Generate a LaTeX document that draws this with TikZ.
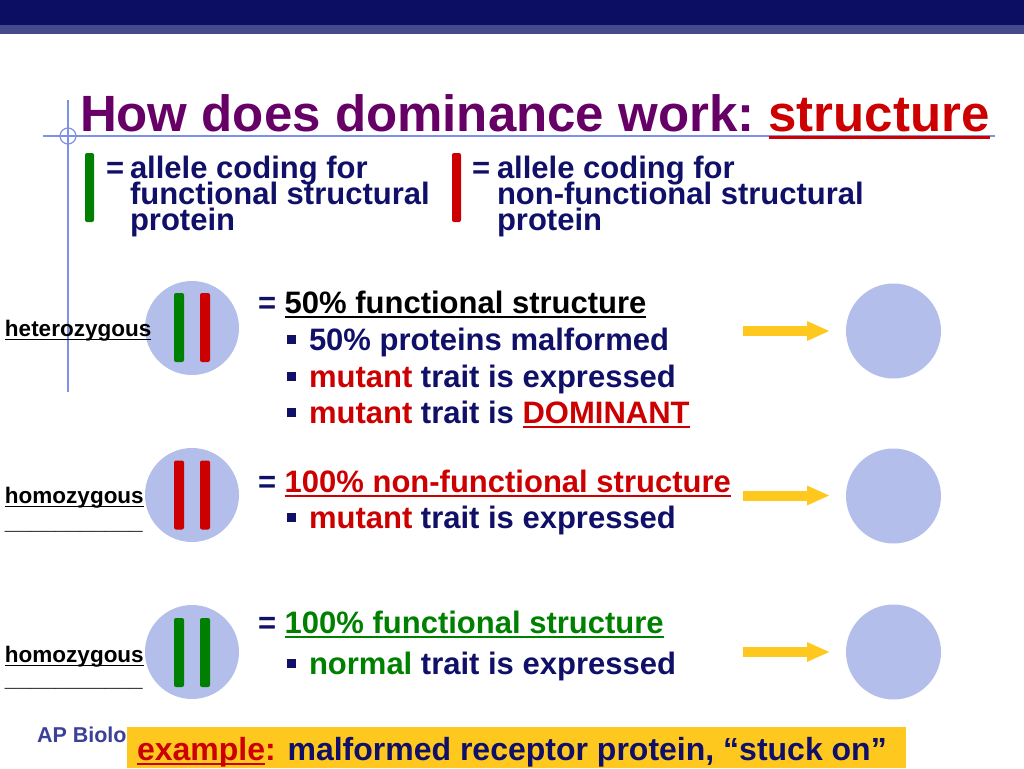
\documentclass[tikz,border=0pt]{standalone}
\usepackage{fontspec}
\setmainfont{Liberation Sans}
\usetikzlibrary{arrows.meta}
\definecolor{navy}{RGB}{16,16,104}
\definecolor{ttlpurple}{RGB}{102,0,102}
\definecolor{mred}{RGB}{204,0,0}
\definecolor{mgreen}{RGB}{0,128,0}
\definecolor{circblue}{RGB}{180,190,234}
\definecolor{gold}{RGB}{255,200,30}
\definecolor{guideblue}{RGB}{125,145,230}
\definecolor{banddark}{RGB}{12,14,100}
\definecolor{bandlight}{RGB}{70,74,138}
\definecolor{apblue}{RGB}{60,64,150}
\newsavebox{\ulbox}
\newcommand{\myul}[3]{\sbox{\ulbox}{#3}\rlap{\rule[-#1]{\wd\ulbox}{#2}}\usebox{\ulbox}}
\begin{document}
\begin{tikzpicture}[x=1pt,y=-1pt,
  every node/.style={inner sep=0pt,outer sep=0pt},
  title/.style={font=\fontsize{51}{56}\selectfont\bfseries,anchor=base west},
  body/.style={font=\fontsize{31}{36}\selectfont\bfseries,text=navy,anchor=base west},
  lbl/.style={font=\fontsize{22.5}{26}\selectfont\bfseries,text=black,anchor=base west},
  guide/.style={draw=guideblue,line width=1.2pt},
  circ/.style={circle,fill=circblue,minimum size=94pt},
  allele/.style={rectangle,rounded corners=2pt,minimum width=10pt,minimum height=69pt},
  bul/.style={rectangle,fill=navy,minimum size=9pt},
  goldarrow/.style={draw=gold,line width=10pt,-{Triangle[length=23pt,width=18pt]}}]
\useasboundingbox (0,0) rectangle (1024,768);
% header bands
\fill[banddark] (0,0) rectangle (1024,25);
\fill[bandlight] (0,25) rectangle (1024,34);
% guide lines
\draw[guide] (43,136) -- (995,136);
\draw[guide] (68,100) -- (68,392);
\draw[guide] (68,136) circle (8);
% title
\node[title,text=ttlpurple] (t1) at (80,131) {How does dominance work:};
\node[title,text=mred] (t2) at ([xshift=14.2pt]t1.base east) {\myul{7.5pt}{2.5pt}{structure}};
% legend
\node[allele,fill=mgreen,minimum width=9pt] (gbar) at (89.5,187.5) {};
\node[body] (geq) at (106,178) {=};
\node[body] (gl1) at (130,178) {allele coding for};
\node[body] (gl2) at (130,204) {functional structural};
\node[body] (gl3) at (130,230) {protein};
\node[allele,fill=mred,minimum width=9pt] (rbar) at (456.5,187.5) {};
\node[body] (req) at (472,178) {=};
\node[body] (rl1) at (497,178) {allele coding for};
\node[body] (rl2) at (497,204) {non-functional structural};
\node[body] (rl3) at (497,230) {protein};
% left circles
\node[circ] (c1) at (192,328) {};
\node[allele,fill=mgreen] (c1a) at (179,327.5) {};
\node[allele,fill=mred] (c1b) at (205,327.5) {};
\node[circ] (c2) at (192,495) {};
\node[allele,fill=mred] (c2a) at (179,495) {};
\node[allele,fill=mred] (c2b) at (205,495) {};
\node[circ] (c3) at (192,652) {};
\node[allele,fill=mgreen] (c3a) at (179,652.5) {};
\node[allele,fill=mgreen] (c3b) at (205,652.5) {};
% right circles
\node[circ,minimum size=95pt] (r1) at (893.5,331) {};
\node[circ,minimum size=95pt] (r2) at (893.5,496) {};
\node[circ,minimum size=95pt] (r3) at (893.5,652) {};
% arrows
\coordinate (a1s) at (743,331); \coordinate (a1e) at (830,331);
\coordinate (a2s) at (743,495.5); \coordinate (a2e) at (830,495.5);
\coordinate (a3s) at (743,652); \coordinate (a3e) at (830,652);
\draw[goldarrow] (a1s) -- (a1e);
\draw[goldarrow] (a2s) -- (a2e);
\draw[goldarrow] (a3s) -- (a3e);
% left labels
\node[lbl] (het) at (5,336) {\myul{4pt}{1.5pt}{heterozygous}};
\node[lbl] (hom1) at (5,503) {\myul{4pt}{1.5pt}{homozygous}};
\node[lbl] (bl1) at (5,529) {\_\_\_\_\_\_\_\_\_\_\_};
\node[lbl] (hom2) at (5,662) {\myul{4pt}{1.5pt}{homozygous}};
\node[lbl] (bl2) at (5,686) {\_\_\_\_\_\_\_\_\_\_\_};
% block 1
\node[body] (b1) at (258,313) {= \textcolor{black}{\myul{4.5pt}{2pt}{50\% functional structure}}};
\node[bul] (q11) at (291,339) {};
\node[body] (b12) at (309,350) {50\% proteins malformed};
\node[bul] (q12) at (291,376) {};
\node[body] (b13) at (309,387) {\textcolor{mred}{mutant} trait is expressed};
\node[bul] (q13) at (291,412) {};
\node[body] (b14) at (309,423) {\textcolor{mred}{mutant} trait is \textcolor{mred}{\myul{4.5pt}{2pt}{DOMINANT}}};
% block 2
\node[bul] (q21) at (291,517) {};
\node[body] (b2) at (258,492) {= \textcolor{mred}{\myul{4.5pt}{2pt}{100\% non-functional structure}}};
\node[body] (b22) at (309,528) {\textcolor{mred}{mutant} trait is expressed};
% block 3
\node[body] (b3) at (258,633) {= \textcolor{mgreen}{\myul{4.5pt}{2pt}{100\% functional structure}}};
\node[bul] (q31) at (291,663) {};
\node[body] (b32) at (309,674) {\textcolor{mgreen}{normal} trait is expressed};
% footer
\node[font=\fontsize{21.5}{24}\selectfont\bfseries,text=apblue,anchor=base west] (ap) at (37,742) {AP Biology};
\node[fill=gold,minimum width=779pt,minimum height=41pt,anchor=north west] (exbox) at (127,727) {};
\node[body,font=\fontsize{32}{36}\selectfont\bfseries] (ex) at (137,760) {\textcolor{mred}{\myul{4.5pt}{2pt}{example}:} malformed receptor protein, “stuck on”};
\end{tikzpicture}
\end{document}
